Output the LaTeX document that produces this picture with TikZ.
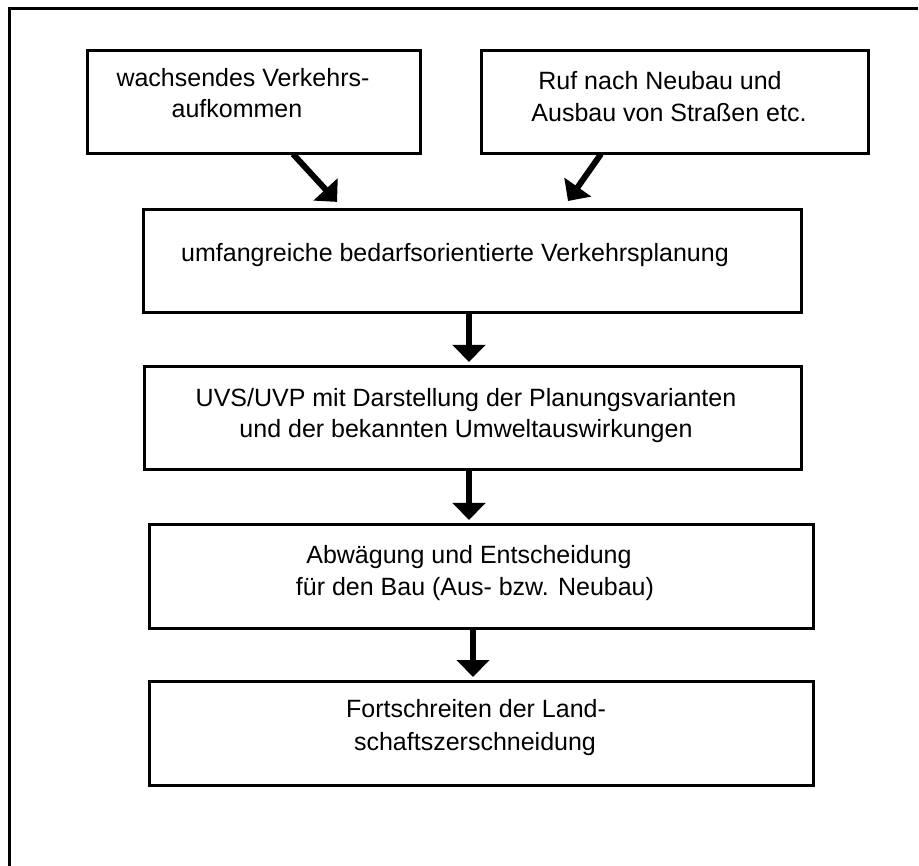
\documentclass[tikz,border=0pt]{standalone}
\usepackage{fontspec}
\setmainfont{Liberation Sans}
\usetikzlibrary{arrows.meta}

\begin{document}
\begin{tikzpicture}[x=1pt,y=-1pt,
  box/.style={draw, line width=3pt, rectangle, inner sep=0pt, outer sep=0pt, anchor=north west},
  txt/.style={anchor=base, inner sep=0pt, font=\fontsize{25}{31}\selectfont},
  arr/.style={line width=6pt, -{Triangle[length=17pt,width=32pt]}},
  frame/.style={line width=3pt}
]
\useasboundingbox (0,0) rectangle (919,866);

% open frame: top and left sides only
\coordinate (fbl) at (9,866);
\coordinate (ftl) at (9,9);
\coordinate (ftr) at (918,9);
\draw[frame] (fbl) -- (ftl) -- (ftr);

% boxes
\node[box, minimum width=333pt, minimum height=103pt] (b1) at (87,51) {};
\node[box, minimum width=387pt, minimum height=103pt] (b2) at (481,51) {};
\node[box, minimum width=658pt, minimum height=103pt] (b3) at (143,210) {};
\node[box, minimum width=657pt, minimum height=103pt] (b4) at (144,367) {};
\node[box, minimum width=664pt, minimum height=103pt] (b5) at (149,525) {};
\node[box, minimum width=664pt, minimum height=104pt] (b6) at (149,681) {};

% labels
\node[txt] (t1a) at (243,87) {wachsendes Verkehrs-};
\node[txt] (t1b) at (237,118) {aufkommen};
\node[txt] (t2a) at (660,90) {Ruf nach Neubau und};
\node[txt] (t2b) at (669,122) {Ausbau von Straßen etc.};
\node[txt] (t3)  at (455,262) {umfangreiche bedarfsorientierte Verkehrsplanung};
\node[txt] (t4a) at (466,407) {UVS/UVP mit Darstellung der Planungsvarianten};
\node[txt] (t4b) at (466,438) {und der bekannten Umweltauswirkungen};
\node[txt] (t5a) at (469,563) {Abwägung und Entscheidung};
\node[txt] (t5b) at (475,595) {für den Bau (Aus- bzw. Neubau)};
\node[txt] (t6a) at (476,717) {Fortschreiten der Land-};
\node[txt] (t6b) at (475,750) {schaftszerschneidung};

% connectors
\draw[arr, shorten >=11pt] ([xshift=39.5pt]b1.south) -- ([xshift=-127.5pt]b3.north);
\draw[arr, shorten >=11pt] ([xshift=-73.5pt]b2.south) -- ([xshift=89.7pt]b3.north);
\draw[arr, shorten >=5pt] ([xshift=-3pt]b3.south) -- ([xshift=-3.5pt]b4.north);
\draw[arr, shorten >=5pt] ([xshift=-3.5pt]b4.south) -- ([xshift=-3.5pt]b4.south |- b5.north);
\draw[arr, shorten >=4pt] ([xshift=-8pt]b5.south) -- ([xshift=-8pt]b6.north);
\end{tikzpicture}
\end{document}
